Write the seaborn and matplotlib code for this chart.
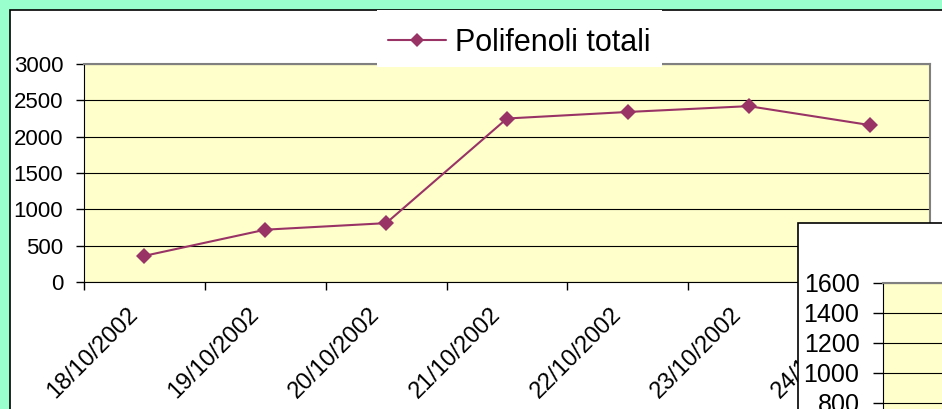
import numpy as np
import pandas as pd
import matplotlib
matplotlib.use('Agg')
import matplotlib.pyplot as plt
import matplotlib.patches as mpatches
import matplotlib.transforms as mtransforms
import seaborn as sns

# data
dates = ['18/10/2002', '19/10/2002', '20/10/2002', '21/10/2002',
         '22/10/2002', '23/10/2002', '24/10/2002']
polifenoli = [360, 720, 810, 2250, 2340, 2420, 2160]
y_ticks = [0, 500, 1000, 1500, 2000, 2500, 3000]
inset_ticks = [0, 200, 400, 600, 800, 1000, 1200, 1400, 1600]

green = '#99FFCC'
yellow = '#FFFFCC'
plum = '#993366'

sns.set_style('white')
plt.rcParams['font.family'] = ['Liberation Sans', 'DejaVu Sans']
plt.rcParams['text.color'] = 'black'
plt.rcParams['xtick.labelcolor'] = 'black'
plt.rcParams['ytick.labelcolor'] = 'black'

W, H = 942, 409
fig = plt.figure(figsize=(W / 100, H / 100), dpi=100)
fig.patch.set_facecolor(green)

def fx(px):
    return px / W

def fy(py):
    return 1 - py / H

# white chart area behind the main plot
fig.patches.append(mpatches.Rectangle((fx(10), -0.2), 1.5, fy(10) + 0.2,
                                      transform=fig.transFigure, facecolor='white',
                                      edgecolor='black', linewidth=1.2, zorder=-5))

df = pd.DataFrame({'pos': np.arange(len(dates)), 'val': polifenoli})

ax = fig.add_axes([fx(84), fy(282), fx(930) - fx(84), fy(64) - fy(282)])
ax.set_facecolor(yellow)
sns.lineplot(data=df, x='pos', y='val', ax=ax, color=plum, marker='D',
             markersize=8, markeredgewidth=0, linewidth=1.5,
             label='Polifenoli totali', legend=False)
ax.set_xlim(-0.5, len(dates) - 0.5)
ax.set_ylim(0, 3000)
ax.set_yticks(y_ticks)
ax.yaxis.grid(True, color='black', linewidth=0.8)
ax.set_xticks(np.arange(len(dates)))
ax.set_xticklabels(dates, rotation=45, ha='right', va='center', rotation_mode='anchor')
ax.set_xticks(np.arange(len(dates) + 1) - 0.5, minor=True)
ax.tick_params(axis='x', which='major', length=0, pad=21, labelsize=17)
ax.tick_params(axis='x', which='minor', length=6, width=1, color='black', direction='out', bottom=True)
ax.tick_params(axis='y', length=6, width=1, color='black', direction='out', left=True, pad=9, labelsize=16)
ax.set_xlabel('')
ax.set_ylabel('')
for s in ['left', 'bottom']:
    ax.spines[s].set_color('black')
for s in ['top', 'right']:
    ax.spines[s].set_color('#808080')
    ax.spines[s].set_linewidth(1.5)
offset = mtransforms.ScaledTranslation(-10 / 100, 0, fig.dpi_scale_trans)
for lab in ax.get_xticklabels():
    lab.set_transform(lab.get_transform() + offset)

# legend on a white box over the top of the plot area
fig.patches.append(mpatches.Rectangle((fx(377), fy(67)), fx(662) - fx(377), fy(10) - fy(67),
                                      transform=fig.transFigure, facecolor='white',
                                      edgecolor='none', zorder=3))
handles, labels = ax.get_legend_handles_labels()
leg = fig.legend(handles, labels, loc='center left', bbox_to_anchor=(fx(388), fy(43)),
                 frameon=False, borderpad=0, borderaxespad=0, handlelength=1.9,
                 handletextpad=0.3, fontsize=22, markerscale=0.9)
leg.set_zorder(4)

# second chart peeking in at the bottom right
fig.patches.append(mpatches.Rectangle((fx(798), -0.2), 0.5, fy(223) + 0.2,
                                      transform=fig.transFigure, facecolor='white',
                                      edgecolor='black', linewidth=1.2, zorder=5))
ax2 = fig.add_axes([fx(883), fy(523), fx(1100) - fx(883), fy(283) - fy(523)])
ax2.set_zorder(6)
ax2.set_facecolor(yellow)
ax2.set_ylim(0, 1600)
ax2.set_yticks(inset_ticks)
ax2.set_xticks([])
ax2.yaxis.grid(True, color='black', linewidth=0.8)
ax2.tick_params(axis='y', length=7, width=1, color='black', direction='out', left=True, pad=10, labelsize=18)
ax2.spines['left'].set_color('black')
ax2.spines['top'].set_color('#808080')
ax2.spines['top'].set_linewidth(1.5)

fig.savefig('out.png', dpi=100, facecolor=fig.get_facecolor())
